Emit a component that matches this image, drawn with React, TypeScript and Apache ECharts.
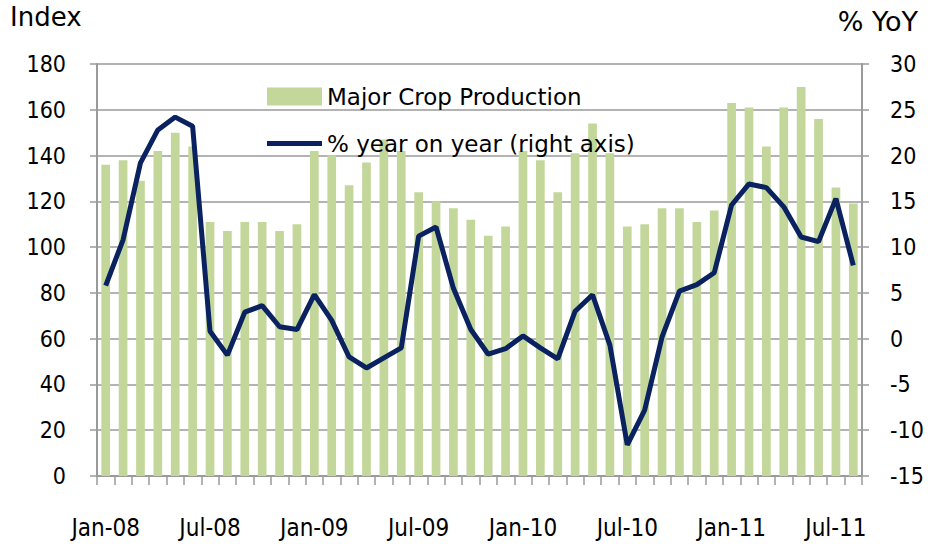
import React, { useEffect, useRef } from "react";
import * as echarts from "echarts";

const months = [
  "Jan-08","Feb-08","Mar-08","Apr-08","May-08","Jun-08","Jul-08","Aug-08","Sep-08","Oct-08","Nov-08","Dec-08",
  "Jan-09","Feb-09","Mar-09","Apr-09","May-09","Jun-09","Jul-09","Aug-09","Sep-09","Oct-09","Nov-09","Dec-09",
  "Jan-10","Feb-10","Mar-10","Apr-10","May-10","Jun-10","Jul-10","Aug-10","Sep-10","Oct-10","Nov-10","Dec-10",
  "Jan-11","Feb-11","Mar-11","Apr-11","May-11","Jun-11","Jul-11","Aug-11",
];

const cropIndex = [
  136, 138, 129, 142, 150, 144, 111, 107, 111, 111, 107, 110,
  142, 140, 127, 137, 147, 142, 124, 120, 117, 112, 105, 109,
  142, 138, 124, 141, 154, 141, 109, 110, 117, 117, 111, 116,
  163, 161, 144, 161, 170, 156, 126, 119,
];

const yoyPct = [
  5.8, 10.8, 19.2, 22.8, 24.2, 23.2, 0.8, -1.8, 2.9, 3.6, 1.3, 1.0,
  4.8, 2.0, -2.0, -3.2, -2.1, -1.0, 11.2, 12.2, 5.5, 1.0, -1.7, -1.1,
  0.3, -1.0, -2.2, 3.0, 4.8, -0.7, -11.6, -7.8, 0.2, 5.2, 5.9, 7.2,
  14.6, 16.9, 16.5, 14.4, 11.1, 10.6, 15.3, 8.0,
];

const TICK_FONT = "DejaVu Sans Condensed";
const TEXT_FONT = "DejaVu Sans";

export default function App() {
  const ref = useRef<HTMLDivElement>(null);
  useEffect(() => {
    if (!ref.current) return;
    const chart = echarts.init(ref.current, undefined, { renderer: "svg" });
    const gridColor = "#9a9a9a";
    const navy = "#0a2260";
    chart.setOption({
      animation: false,
      backgroundColor: "#ffffff",
      textStyle: { fontFamily: TEXT_FONT },
      grid: { left: 97, right: 68, top: 64, bottom: 68, show: false },
      legend: {
        orient: "vertical",
        left: 262,
        top: 80,
        itemGap: 24,
        itemWidth: 55,
        itemHeight: 18,
        textStyle: { fontFamily: TEXT_FONT, fontSize: 23, color: "#000" },
        data: [
          { name: "Major Crop Production", icon: "rect" },
          {
            name: "% year on year (right axis)",
            icon: "path://M0 0h110v10H0z",
            itemStyle: { color: navy },
          },
        ],
      },
      graphic: [
        { type: "text", left: 10, top: 4, style: { text: "Index", fontFamily: TEXT_FONT, fontSize: 26, fill: "#000" } },
        { type: "text", right: 12, top: 8, style: { text: "% YoY", fontFamily: TEXT_FONT, fontSize: 27, fill: "#000" } },
      ],
      xAxis: {
        type: "category",
        data: months,
        boundaryGap: true,
        axisLine: { show: true, lineStyle: { color: gridColor, width: 2 } },
        axisTick: { show: true, interval: 0, length: 9, lineStyle: { color: gridColor, width: 1.5 } },
        axisLabel: { interval: 5, margin: 40, fontFamily: TICK_FONT, fontSize: 24, color: "#000" },
        splitLine: { show: false },
      },
      yAxis: [
        {
          type: "value",
          min: 0,
          max: 180,
          interval: 20,
          axisLine: { show: true, lineStyle: { color: gridColor, width: 2 } },
          axisTick: { show: true, length: 7, lineStyle: { color: gridColor, width: 1.5 } },
          axisLabel: { margin: 31, fontFamily: TICK_FONT, fontSize: 23, color: "#000" },
          splitLine: { show: true, lineStyle: { color: gridColor, width: 1.5 } },
        },
        {
          type: "value",
          min: -15,
          max: 30,
          interval: 5,
          position: "right",
          axisLine: { show: true, lineStyle: { color: gridColor, width: 2 } },
          axisTick: { show: true, length: 7, lineStyle: { color: gridColor, width: 1.5 } },
          axisLabel: { margin: 28, fontFamily: TICK_FONT, fontSize: 23, color: "#000" },
          splitLine: { show: false },
        },
      ],
      series: [
        {
          name: "Major Crop Production",
          type: "bar",
          data: cropIndex,
          yAxisIndex: 0,
          barCategoryGap: "50%",
          itemStyle: { color: "#c4d79b" },
        },
        {
          name: "% year on year (right axis)",
          type: "line",
          data: yoyPct,
          yAxisIndex: 1,
          symbol: "none",
          lineStyle: { color: navy, width: 5 },
          itemStyle: { color: navy },
        },
      ],
    });
    return () => chart.dispose();
  }, []);
  return <div ref={ref} style={{ width: 930, height: 544, position: "absolute", left: 0, top: 0 }} />;
}
